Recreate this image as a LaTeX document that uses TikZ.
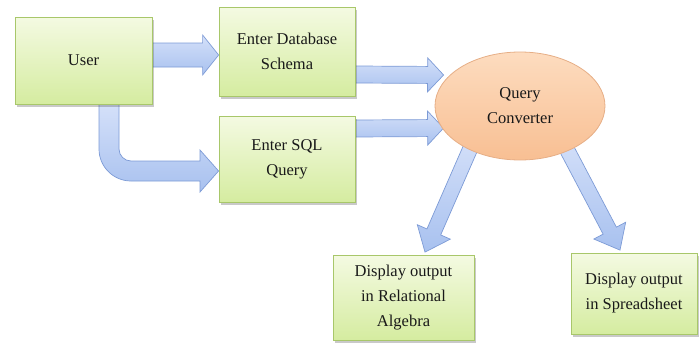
\documentclass[tikz,border=0pt]{standalone}
\usepackage{fontspec}
\setmainfont{Liberation Serif}
\usetikzlibrary{calc,shapes.geometric,shadows,backgrounds}

\definecolor{boxtop}{HTML}{F4FAE2}
\definecolor{boxbot}{HTML}{D5ECA0}
\definecolor{boxline}{HTML}{A8C76A}
\definecolor{ovtop}{HTML}{FDDCBF}
\definecolor{ovbot}{HTML}{F8BF93}
\definecolor{ovline}{HTML}{E6AE86}
\definecolor{artop}{HTML}{D4E0F9}
\definecolor{arbot}{HTML}{A8C1EF}
\definecolor{arline}{HTML}{7D9BD6}

\tikzset{
  labeltext/.style={align=center, text=black!90, font=\fontsize{16.5}{25}\selectfont},
  procbox/.style={labeltext, draw=boxline, line width=0.8pt,
    top color=boxtop, bottom color=boxbot, inner sep=0pt,
    drop shadow={shadow xshift=2pt, shadow yshift=-2.5pt, opacity=0.3, fill=black!70}},
  convnode/.style={labeltext, ellipse, draw=ovline, line width=0.8pt,
    top color=ovtop, bottom color=ovbot, inner sep=0pt},
  arrowbody/.style={draw=arline, line width=0.7pt, top color=artop, bottom color=arbot}
}

% straight block arrow: #1 tail, #2 tip, #3 half shaft width, #4 half head width, #5 head length
\newcommand\blockarrow[5]{%
  \coordinate (bh) at ($(#2)!#5!(#1)$);
  \path[arrowbody] ($(#1)!#3!90:(#2)$) -- ($(bh)!#3!90:(#2)$) -- ($(bh)!#4!90:(#2)$)
    -- (#2) -- ($(bh)!#4!-90:(#2)$) -- ($(bh)!#3!-90:(#2)$) -- ($(#1)!#3!-90:(#2)$) -- cycle;
}

\begin{document}
\begin{tikzpicture}[x=1pt, y=-1pt]
  \useasboundingbox (0,0) rectangle (699,348);

  % process boxes
  \node[procbox, minimum width=137pt, minimum height=87pt] (user) at (83.5,60.5) {User};
  \node[procbox, minimum width=136pt, minimum height=89pt] (schema) at (287,51.5) {Enter Database\\Schema};
  \node[procbox, minimum width=136pt, minimum height=86pt] (sql) at (287,159) {Enter SQL\\Query};
  \node[procbox, minimum width=141pt, minimum height=85pt] (rel) at (403.5,297.5) {Display output\\in Relational\\Algebra};
  \node[procbox, minimum width=126pt, minimum height=81pt] (sheet) at (634,293.5) {Display output\\in Spreadsheet};

  % converter
  \node[convnode, minimum width=170pt, minimum height=108pt] (conv) at (520,106) {Query\\Converter};

  % connectors
  \coordinate (u1) at ($(user.east)+(0,-5.5)$);
  \coordinate (s1) at ($(schema.west)+(0,3.5)$);
  \coordinate (s2) at ($(schema.east)+(0,23)$);
  \coordinate (q1) at ($(conv.west)+(9,-31)$);
  \coordinate (s3) at ($(sql.east)+(0,-30.5)$);
  \coordinate (q2) at ($(conv.west)+(9,22)$);
  \coordinate (q3) at ($(conv.center)+(-46,34)$);
  \coordinate (r1) at ($(rel.north)+(21.5,-2.5)$);
  \coordinate (q4) at ($(conv.center)+(42,34)$);
  \coordinate (h1) at ($(sheet.north)+(-14,-2.5)$);

  \begin{pgfonlayer}{background}
    \blockarrow{u1}{s1}{12pt}{20pt}{16pt}
    \blockarrow{s2}{q1}{8.5pt}{17pt}{16pt}
    \blockarrow{s3}{q2}{8.5pt}{17pt}{16pt}
    \blockarrow{q3}{r1}{7.5pt}{18pt}{22pt}
    \blockarrow{q4}{h1}{7.5pt}{18pt}{22pt}

    % bent arrow from the user down to the SQL box
    \path[arrowbody] ($(user.south)+(15.5,0)$) -- (99,149)
      arc[start angle=180, end angle=90, radius=32] -- (200,181) -- (200,192)
      -- ($(sql.west)+(0,12)$) -- (200,150) -- (200,161) -- (131,161)
      arc[start angle=90, end angle=180, radius=12] -- ($(user.south)+(35.5,0)$) -- cycle;
  \end{pgfonlayer}
\end{tikzpicture}
\end{document}
